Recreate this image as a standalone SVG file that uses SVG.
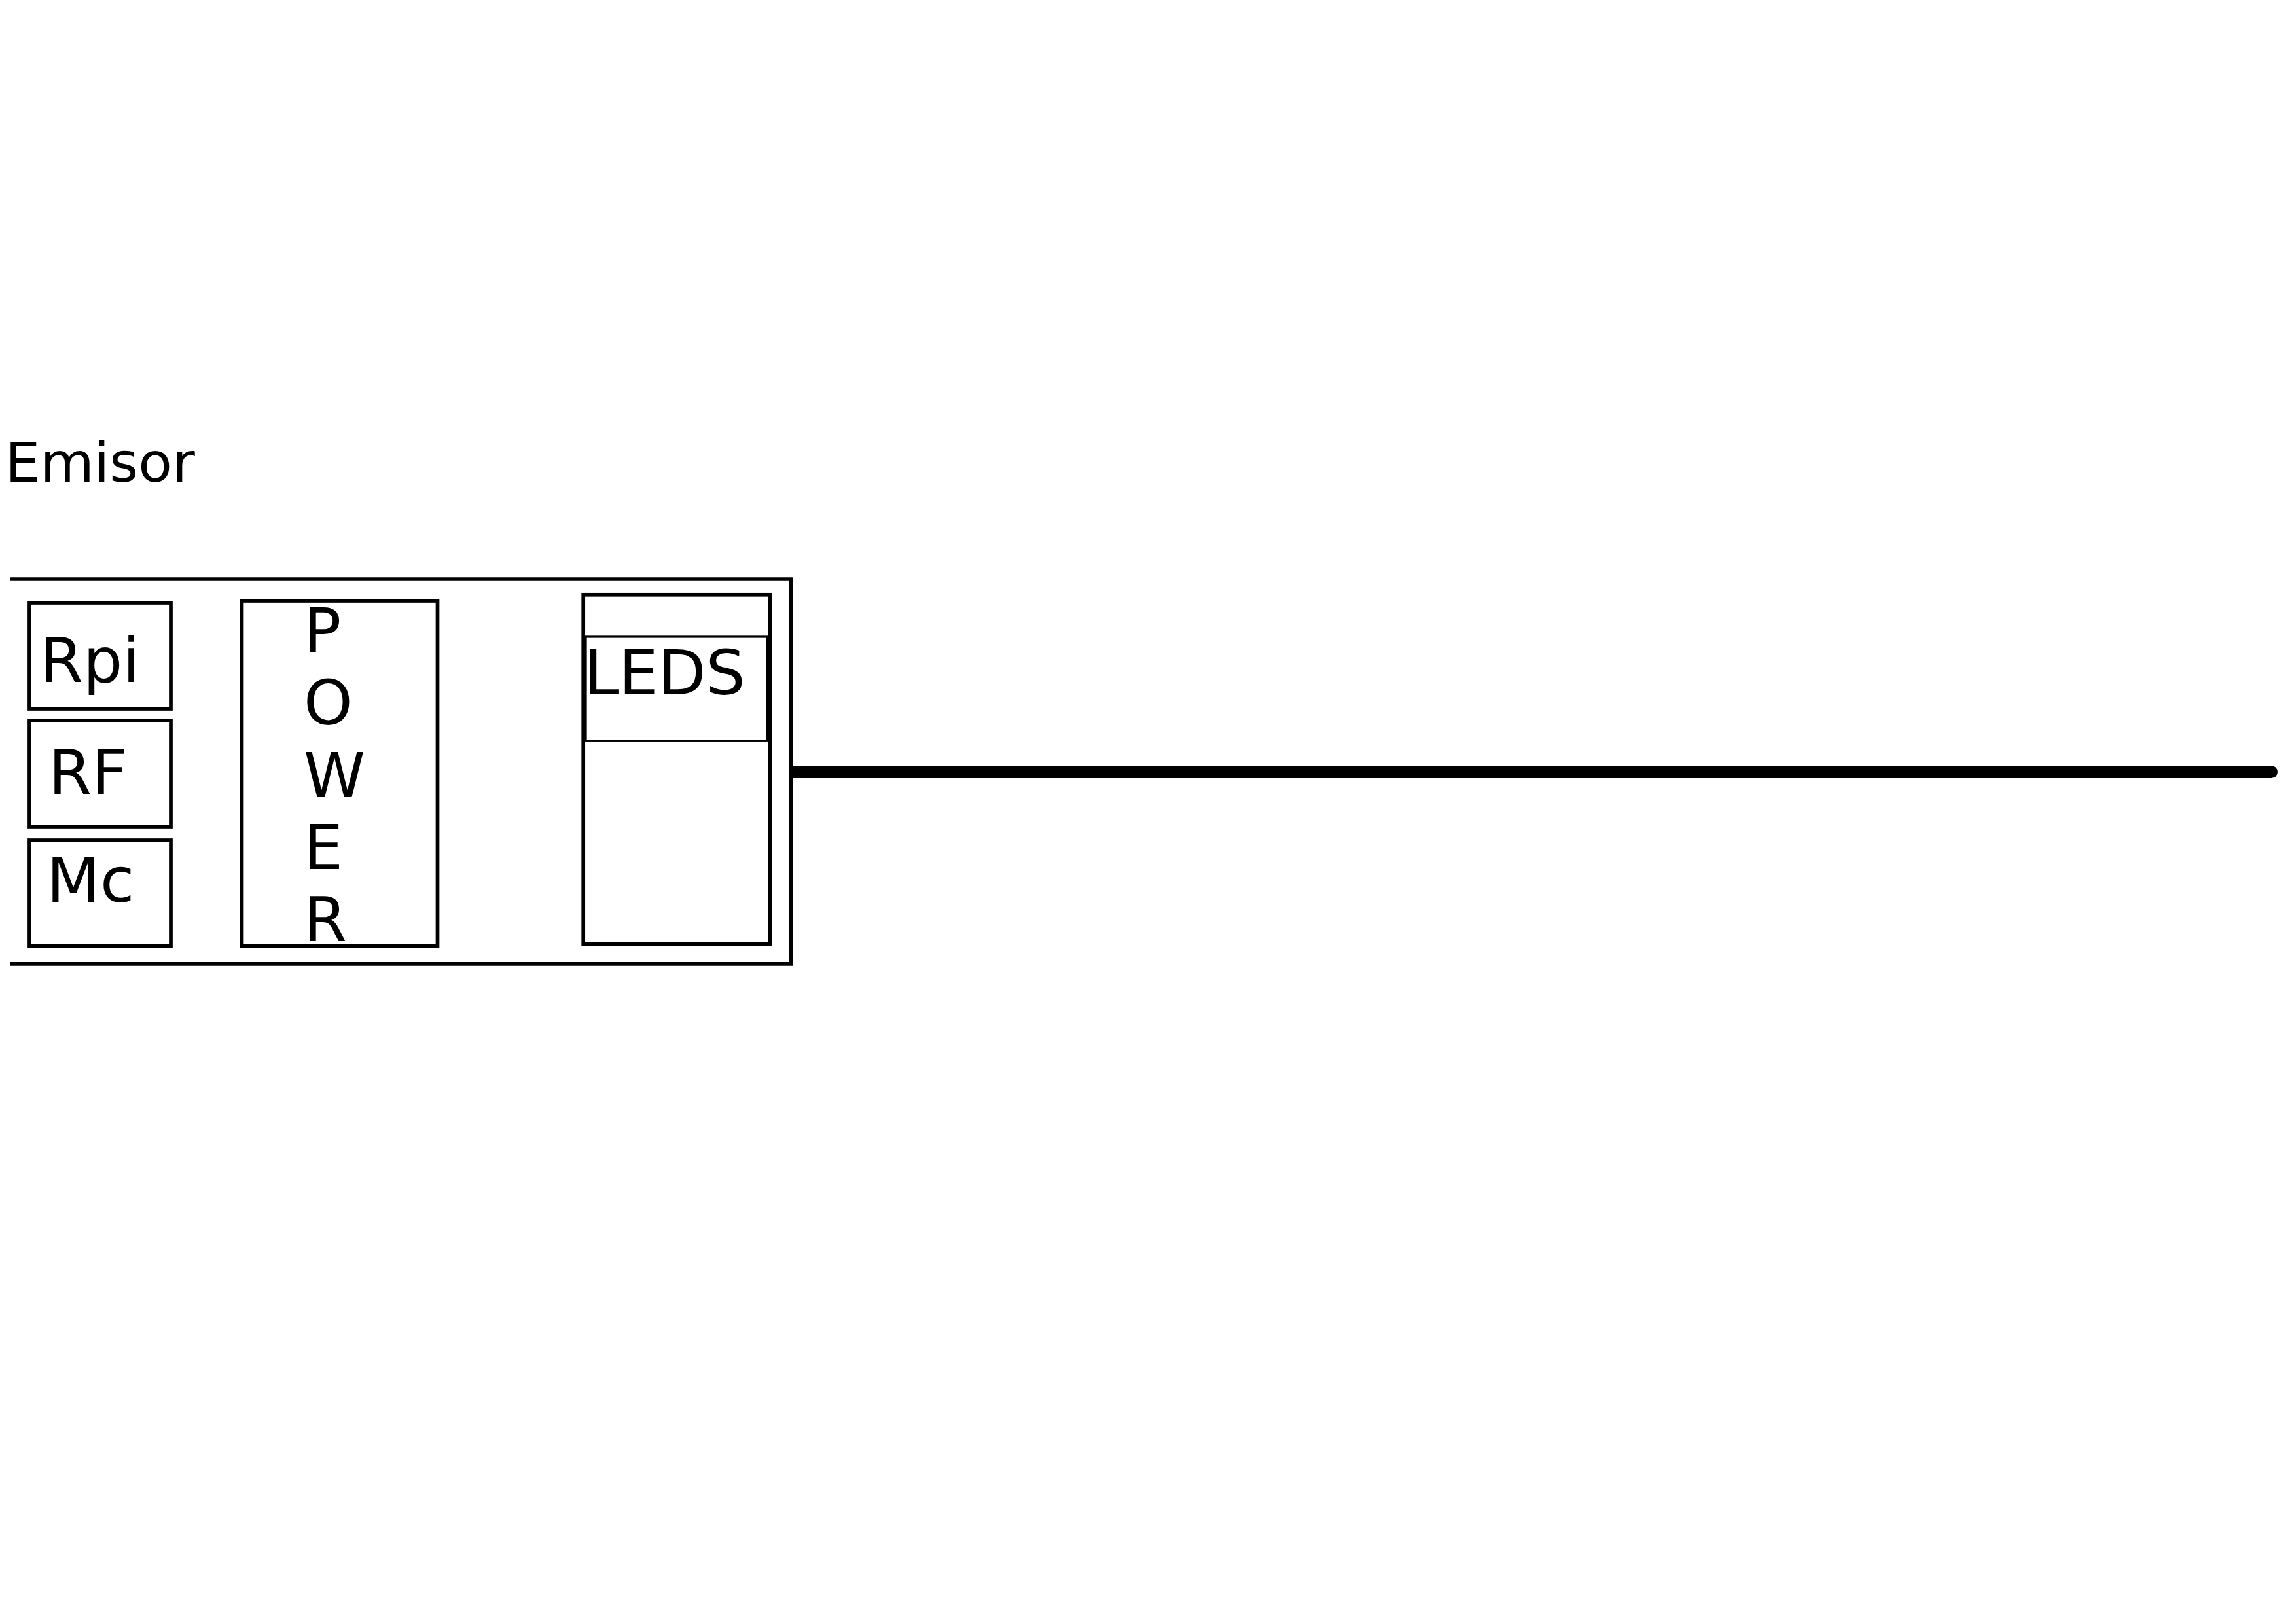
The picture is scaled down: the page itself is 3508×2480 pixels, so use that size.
<svg xmlns="http://www.w3.org/2000/svg" width="3508" height="2480" viewBox="0 0 3508 2480">
<style>
.box{fill:none;stroke:#000;stroke-width:5.7}
.thin{fill:none;stroke:#000;stroke-width:3.3}
.lbl{font-family:"DejaVu Sans",sans-serif;font-size:95px;fill:#000}
</style>
<rect width="3508" height="2480" fill="#fff"/>
<g id="title"><text x="8" y="735.5" font-family="DejaVu Sans, sans-serif" font-size="84.5" fill="#000">Emisor</text></g>
<g id="emisor"><path class="box" d="M16,885 H1208.5 V1472.8 H16" stroke-linejoin="miter"/></g>
<g id="rpi"><rect class="box" x="45" y="921" width="216" height="162"/><text class="lbl" x="61" y="1042">Rpi</text></g>
<g id="rf"><rect class="box" x="45" y="1101" width="216" height="162"/><text class="lbl" x="74" y="1213">RF</text></g>
<g id="mc"><rect class="box" x="45" y="1284" width="216" height="161.5"/><text class="lbl" x="71" y="1378">Mc</text></g>
<g id="power"><rect class="box" x="369.5" y="918" width="299" height="527.5"/>
<text class="lbl" x="464" y="997"><tspan x="464">P</tspan><tspan x="464" dy="110.3">O</tspan><tspan x="464" dy="110.3">W</tspan><tspan x="464" dy="110.3">E</tspan><tspan x="464" dy="110.3">R</tspan></text></g>
<g id="leds"><rect class="box" x="891.2" y="908.8" width="285" height="534"/><rect class="thin" x="895" y="973" width="276.7" height="159.3"/><text class="lbl" x="892.5" y="1061" font-size="96">LEDS</text></g>
<g id="connectors"><line x1="1210" y1="1179.5" x2="3470.5" y2="1179.5" stroke="#000" stroke-width="19" stroke-linecap="butt"/><circle cx="3470.5" cy="1179.5" r="9.5" fill="#000"/></g>
</svg>
